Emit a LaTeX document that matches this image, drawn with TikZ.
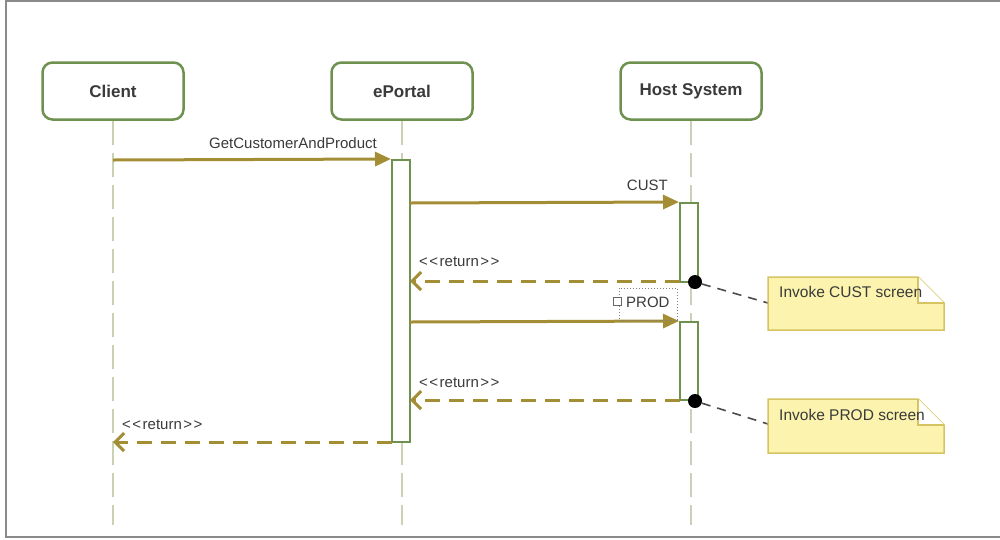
\documentclass[tikz,border=0pt]{standalone}
\usepackage{fontspec}
\setmainfont[Ligatures=NoCommon]{Liberation Sans}
\usetikzlibrary{arrows.meta}
\definecolor{boxgreen}{HTML}{6E9150}
\definecolor{lifec}{HTML}{C9D2B2}
\definecolor{msgc}{HTML}{A38E35}
\definecolor{notefill}{HTML}{FBF3AE}
\definecolor{notedraw}{HTML}{D6C463}
\definecolor{txtc}{HTML}{3A3A3A}
\definecolor{framec}{HTML}{8A8A8A}
\newcommand{\ret}{\textless\hspace{1.5pt}\textless\hspace{1.5pt}return\hspace{1.5pt}\textgreater\hspace{1.5pt}\textgreater}
\tikzset{
  actor/.style={draw=boxgreen,line width=2.5pt,rounded corners=10pt,fill=white,minimum width=141pt,minimum height=57pt,font=\fontsize{17}{19}\selectfont\bfseries,text=txtc},
  lifeline/.style={draw=lifec,line width=1.6pt,dash pattern=on 24pt off 8pt},
  activation/.style={draw=boxgreen,line width=2pt,fill=white},
  msg/.style={draw=msgc,line width=3pt,-{Triangle[length=16pt,width=14pt]}},
  retmsg/.style={draw=msgc,line width=3pt,dash pattern=on 15pt off 9pt,-{Straight Barb[length=9pt,width=18pt]}},
  lbl/.style={font=\fontsize{15}{17}\selectfont,text=txtc,inner sep=0pt},
  notelink/.style={draw=black!70,line width=1.6pt,dash pattern=on 9pt off 7pt},
  notetxt/.style={font=\fontsize{15.5}{17}\selectfont,text=txtc,inner sep=0pt,anchor=west},
  dotc/.style={circle,fill=black,inner sep=0pt,minimum size=14pt}
}
\begin{document}
\begin{tikzpicture}[x=1pt,y=-1pt]
\useasboundingbox (0,0) rectangle (1000,539);
% frame
\draw[framec,line width=2pt] (1000,1) -- (6,1) -- (6,537) -- (1000,537);
% actors
\node[actor] (client) at (113,91) {Client};
\node[actor] (portal) at (402,91) {ePortal};
\node[actor] (host) at (691,91) {Host System};
% lifeline ends
\coordinate (clientEnd) at (113,525);
\coordinate (portalEnd) at (402,525);
\coordinate (hostEnd) at (691,525);
\draw[lifeline] (client.south) -- (clientEnd);
\draw[lifeline] (portal.south) -- (portalEnd);
\draw[lifeline] (host.south) -- (hostEnd);
% activations
\node[activation,minimum width=18pt,minimum height=282pt,inner sep=0pt] (actP) at (401,301) {};
\node[activation,minimum width=18pt,minimum height=79pt,inner sep=0pt] (actH1) at (689,242.5) {};
\node[activation,minimum width=18pt,minimum height=78pt,inner sep=0pt] (actH2) at (689,361) {};
% message 1
\coordinate (m1s) at (113,160);
\draw[msg] (m1s) -- (actP.north west);
\node[lbl,anchor=south east] (l1) at (377,149) {GetCustomerAndProduct};
% CUST
\coordinate (m2s) at (410,203);
\draw[msg] (m2s) -- (actH1.north west);
\node[lbl,anchor=south east] (l2) at (668,191) {CUST};
% return 1
\coordinate (r1s) at (680,281);
\coordinate (r1e) at (410,281);
\draw[retmsg] (r1s) -- (r1e);
\node[lbl,anchor=south west] (l3) at (419,267) {\ret};
% PROD message
\coordinate (m3s) at (410,322);
\draw[msg] (m3s) -- (actH2.north west);
\draw[black!50,line width=1pt,dotted] (619,288) rectangle (677,320);
\node[draw=black!60,fill=white,line width=0.8pt,minimum size=8pt,inner sep=0pt] (icon) at (617,301) {};
\node[lbl,anchor=west] (l4) at (626,302) {PROD};
% return 2
\coordinate (r2s) at (680,400);
\coordinate (r2e) at (410,400);
\draw[retmsg] (r2s) -- (r2e);
\node[lbl,anchor=south west] (l5) at (419,388) {\ret};
% return 3
\coordinate (r3s) at (392,442);
\coordinate (r3e) at (113,442);
\draw[retmsg] (r3s) -- (r3e);
\node[lbl,anchor=south west] (l6) at (122,430) {\ret};
% dots
\node[dotc] (d1) at (695,282) {};
\node[dotc] (d2) at (695,401) {};
% notes
\coordinate (n1) at (768,303);
\coordinate (n2) at (768,424);
\draw[notelink] (d1) -- (n1);
\draw[notelink] (d2) -- (n2);
\filldraw[fill=notefill,draw=notedraw,line width=1.5pt] (768,277) -- (918,277) -- (944,303) -- (944,330) -- (768,330) -- cycle;
\filldraw[fill=white,draw=notedraw,line width=1.5pt] (918,277) -- (918,303) -- (944,303);
\node[notetxt] (t1) at (779,292) {Invoke CUST screen};
\filldraw[fill=notefill,draw=notedraw,line width=1.5pt] (768,399) -- (918,399) -- (944,425) -- (944,453) -- (768,453) -- cycle;
\filldraw[fill=white,draw=notedraw,line width=1.5pt] (918,399) -- (918,425) -- (944,425);
\node[notetxt] (t2) at (779,415) {Invoke PROD screen};
\end{tikzpicture}
\end{document}
